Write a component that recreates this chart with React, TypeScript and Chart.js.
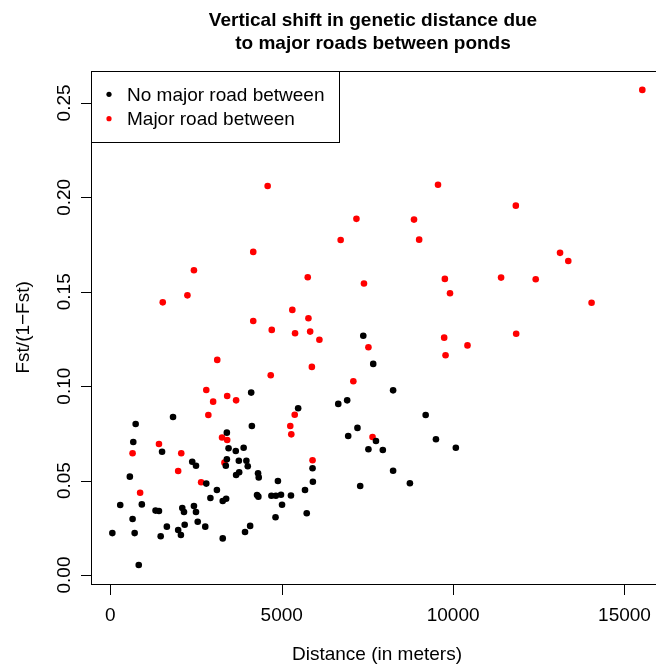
import React, { useEffect, useRef } from "react";
import { Chart, registerables } from "chart.js";

Chart.register(...registerables);

// Pond pairs without a major road between them
const noRoadDistance = [
  4110, 740, 1830, 4130, 670, 3400, 1510, 3450, 3660, 3890,
  3400, 3750, 3970, 3370, 4010, 2390, 2500, 3760, 3670, 4310,
  4330, 570, 2800, 3110, 4890, 2920, 3280, 3380, 4280, 4320,
  4700, 4830, 4980, 5270, 5010, 290, 920, 1320, 1420, 2100,
  2150, 2440, 2500, 650, 4820, 1650, 2170, 2550, 2770, 4080,
  3930, 60, 710, 1470, 1980, 2060, 3280, 830, 8250, 5480,
  6650, 6910, 9200, 7210, 6940, 7750, 7530, 7950, 9500, 10080,
  5900, 5910, 5680, 8250, 7290, 8740, 5730, 7380, 7670,
];
const noRoadFst = [
  0.0966, 0.08, 0.0837, 0.0789, 0.0704, 0.0754, 0.0653, 0.0671, 0.0657, 0.0674,
  0.0613, 0.0605, 0.0605, 0.0579, 0.0576, 0.06, 0.0579, 0.0544, 0.053, 0.0539,
  0.0517, 0.0521, 0.0484, 0.045, 0.0498, 0.0408, 0.0392, 0.0404, 0.0424, 0.0415,
  0.042, 0.042, 0.0425, 0.0421, 0.0372, 0.0371, 0.0374, 0.0341, 0.0339, 0.0355,
  0.0334, 0.0365, 0.0334, 0.0297, 0.0306, 0.0256, 0.0266, 0.0282, 0.0256, 0.026,
  0.0228, 0.0222, 0.0222, 0.0205, 0.0238, 0.0212, 0.0194, 0.0053, 0.0978, 0.0883,
  0.0906, 0.0925, 0.0847, 0.0779, 0.0736, 0.071, 0.0666, 0.0662, 0.0719, 0.0674,
  0.0565, 0.0494, 0.045, 0.0552, 0.0471, 0.0486, 0.0327, 0.1267, 0.1118,
];

// Pond pairs separated by a major road
const roadDistance = [
  2800, 3000, 3410, 3670, 2860, 1420, 650, 2070, 1980, 2650,
  870, 3260, 3410, 3330, 5250, 5280, 7090, 5380, 7650, 5900,
  9740, 10420, 9780, 11840, 4590, 7180, 6720, 4170, 2440, 5760,
  7400, 2250, 1530, 5310, 4170, 5780, 4710, 5390, 5830, 6100,
  7530, 3120, 5880, 4680, 15520, 9560, 11830, 8860, 9010, 13120,
  13360, 9760, 9910, 11400, 12410, 14040,
];
const roadFst = [
  0.098, 0.0918, 0.0948, 0.0925, 0.0847, 0.0694, 0.0645, 0.0645, 0.0551, 0.0491,
  0.0436, 0.0728, 0.0715, 0.0595, 0.0789, 0.0745, 0.1026, 0.0849, 0.0731, 0.0608,
  0.1257, 0.1216, 0.1164, 0.1278, 0.206, 0.1886, 0.1774, 0.1711, 0.1614, 0.1577,
  0.1544, 0.1481, 0.1444, 0.1404, 0.1345, 0.136, 0.1298, 0.128, 0.1289, 0.1246,
  0.1206, 0.1139, 0.1102, 0.1058, 0.2569, 0.2067, 0.1956, 0.1882, 0.1776, 0.1706,
  0.1663, 0.1568, 0.1492, 0.1575, 0.1566, 0.1442,
];

const xTicks = [0, 5000, 10000, 15000];
const xTickLabels = ["0", "5000", "10000", "15000"];
const yTicks = [0, 0.05, 0.1, 0.15, 0.2, 0.25];
const yTickLabels = ["0.00", "0.05", "0.10", "0.15", "0.20", "0.25"];

const titleLines = ["Vertical shift in genetic distance due", "to major roads between ponds"];
const xAxisTitle = "Distance (in meters)";
const yAxisTitle = "Fst/(1\u2212Fst)";
const seriesLabels = ["No major road between", "Major road between"];
const seriesColors = ["#000000", "#ff0000"];

const FONT_FAMILY = '"Liberation Sans", Arial, Helvetica, sans-serif';
const FONT_SIZE = 19;
const TICK_LEN = 10.5;

// R-style frame, outward ticks, labels, titles and legend
const basePlotDecor = {
  id: "basePlotDecor",
  afterDraw(chart: any) {
    const { ctx, chartArea: a, scales } = chart;
    const xs = scales.x;
    const ys = scales.y;
    const snap = (v: number) => Math.round(v) + 0.5;
    ctx.save();
    ctx.strokeStyle = "#000";
    ctx.fillStyle = "#000";
    ctx.lineWidth = 1;

    // plot frame
    const L = snap(a.left);
    const T = snap(a.top);
    const B = snap(a.bottom);
    const R = snap(a.right);
    ctx.strokeRect(L, T, R - L, B - T);

    // tick marks
    ctx.beginPath();
    xTicks.forEach((v) => {
      const px = snap(xs.getPixelForValue(v));
      ctx.moveTo(px, B);
      ctx.lineTo(px, B + TICK_LEN);
    });
    yTicks.forEach((v) => {
      const py = snap(ys.getPixelForValue(v));
      ctx.moveTo(L, py);
      ctx.lineTo(L - TICK_LEN, py);
    });
    ctx.stroke();

    ctx.font = `${FONT_SIZE}px ${FONT_FAMILY}`;
    ctx.textBaseline = "alphabetic";

    // x tick labels
    ctx.textAlign = "center";
    xTicks.forEach((v, i) => {
      ctx.fillText(xTickLabels[i], xs.getPixelForValue(v), a.bottom + 37.5);
    });

    // y tick labels, parallel to the axis
    yTicks.forEach((v, i) => {
      ctx.save();
      ctx.translate(a.left - 21, ys.getPixelForValue(v));
      ctx.rotate(-Math.PI / 2);
      ctx.textAlign = "center";
      ctx.fillText(yTickLabels[i], 0, 0);
      ctx.restore();
    });

    // axis titles
    const midX = (a.left + a.right) / 2;
    const midY = (a.top + a.bottom) / 2;
    ctx.textAlign = "center";
    ctx.fillText(xAxisTitle, 377, a.bottom + 76);
    ctx.save();
    ctx.translate(29, midY);
    ctx.rotate(-Math.PI / 2);
    ctx.fillText(yAxisTitle, 0, 0);
    ctx.restore();

    // main title
    ctx.font = `bold ${FONT_SIZE}px ${FONT_FAMILY}`;
    ctx.fillText(titleLines[0], 373, 26);
    ctx.fillText(titleLines[1], 373, 49);

    // legend in the top-left corner
    ctx.font = `${FONT_SIZE}px ${FONT_FAMILY}`;
    const textX = a.left + 36;
    const maxW = Math.max(...seriesLabels.map((s) => ctx.measureText(s).width));
    const boxR = snap(textX + maxW + 14.5);
    const boxB = snap(a.top + 70.7);
    ctx.fillStyle = "#fff";
    ctx.fillRect(L, T, boxR - L, boxB - T);
    ctx.strokeRect(L, T, boxR - L, boxB - T);
    ctx.textAlign = "left";
    ctx.textBaseline = "middle";
    seriesLabels.forEach((s, i) => {
      const rowY = a.top + 23.3 + i * 24.4;
      ctx.fillStyle = seriesColors[i];
      ctx.beginPath();
      ctx.arc(a.left + 18, rowY, 2.6, 0, Math.PI * 2);
      ctx.fill();
      ctx.fillStyle = "#000";
      ctx.fillText(s, textX, rowY + 1);
    });
    void midX;
    ctx.restore();
  },
};

export default function App() {
  const canvasRef = useRef<HTMLCanvasElement | null>(null);

  useEffect(() => {
    const canvas = canvasRef.current;
    if (!canvas) return;
    const toPoints = (xs: number[], ys: number[]) => xs.map((x, i) => ({ x, y: ys[i] }));
    const chart = new Chart(canvas, {
      type: "scatter",
      data: {
        datasets: [
          {
            label: seriesLabels[0],
            data: toPoints(noRoadDistance, noRoadFst),
            pointRadius: 3.3,
            pointBackgroundColor: seriesColors[0],
            pointBorderColor: seriesColors[0],
            pointBorderWidth: 0,
          },
          {
            label: seriesLabels[1],
            data: toPoints(roadDistance, roadFst),
            pointRadius: 3.3,
            pointBackgroundColor: seriesColors[1],
            pointBorderColor: seriesColors[1],
            pointBorderWidth: 0,
          },
        ],
      },
      options: {
        responsive: false,
        animation: false,
        devicePixelRatio: 1,
        events: [],
        layout: { padding: { left: 91, top: 71, right: 16.5, bottom: 82.3 } },
        plugins: {
          legend: { display: false },
          title: { display: false },
          tooltip: { enabled: false },
        },
        scales: {
          x: { type: "linear", min: -563, max: 16138, display: false },
          y: { type: "linear", min: -0.0046, max: 0.2669, display: false },
        },
      },
      plugins: [basePlotDecor],
    });
    return () => chart.destroy();
  }, []);

  return (
    <div
      style={{
        position: "fixed",
        left: 0,
        top: 0,
        width: 656,
        height: 666,
        overflow: "hidden",
        background: "#fff",
      }}
    >
      <canvas
        ref={canvasRef}
        width={680}
        height={666}
        style={{ display: "block", width: 680, height: 666 }}
      />
    </div>
  );
}
